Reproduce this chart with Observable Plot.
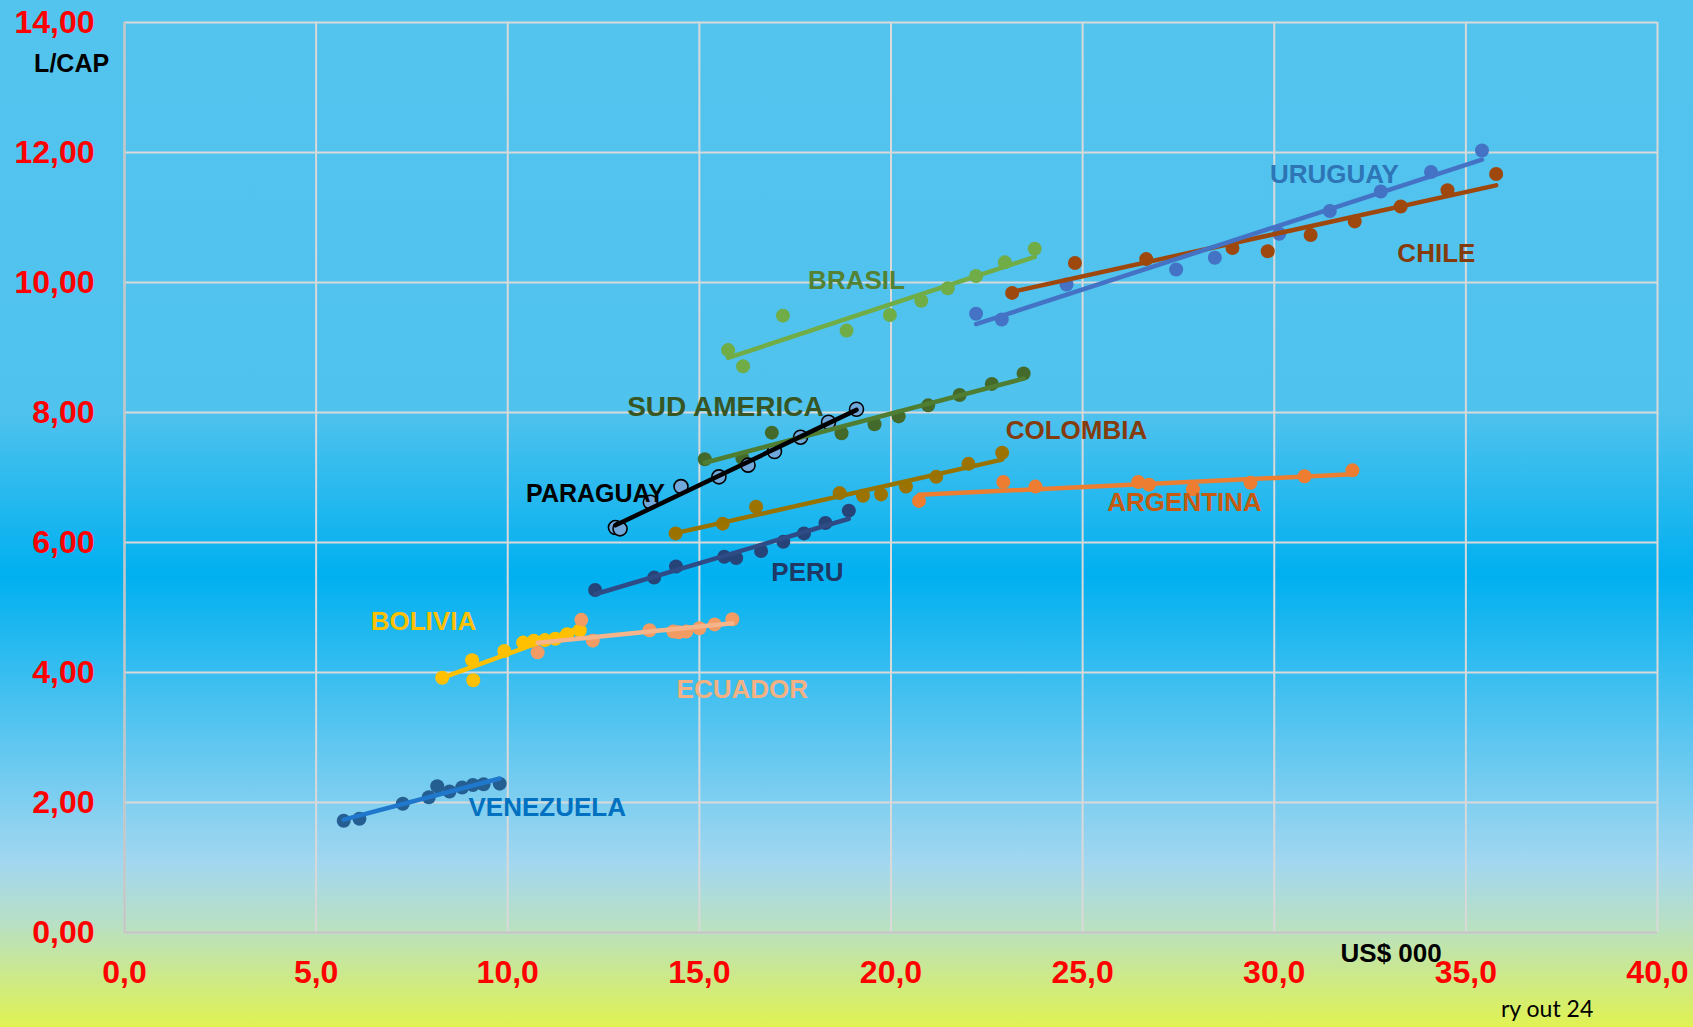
<!DOCTYPE html>
<html>
<head>
<meta charset="utf-8">
<script src="https://cdn.jsdelivr.net/npm/d3@7"></script>
<script src="https://cdn.jsdelivr.net/npm/@observablehq/plot@0.6"></script>
<style>
html, body { margin: 0; padding: 0; }
body {
  width: 1693px; height: 1027px; overflow: hidden; position: relative;
  background: linear-gradient(to bottom, #52c4ee 0%, #50c2ee 40%, #00b0f0 56%, #a2d7f0 84%, #b8e0c4 90%, #e0f252 100%);
  font-family: "Liberation Sans", Arial, sans-serif;
}
#chart { position: absolute; left: 0; top: 0; }
#note { position: absolute; left: 1501px; top: 994px; font-family: Lato, "Open Sans", sans-serif; font-size: 23px; color: #000; white-space: nowrap; }
</style>
</head>
<body>
<div id="chart"></div>
<div id="note">ry out 24</div>
<script>
// ---- data (x = US$ 000, y = L/CAP) ----
const venezuela = [[5.72,1.72],[6.13,1.75],[7.26,1.98],[7.94,2.08],[8.16,2.25],[8.48,2.17],[8.81,2.23],[9.09,2.27],[9.37,2.28],[9.79,2.29]];
const bolivia = [[8.29,3.92],[9.07,4.19],[9.10,3.88],[9.91,4.33],[10.40,4.46],[10.68,4.49],[10.97,4.50],[11.24,4.52],[11.55,4.59],[11.88,4.65]];
const ecuador = [[10.78,4.31],[11.92,4.81],[12.22,4.49],[13.70,4.65],[14.32,4.63],[14.46,4.62],[14.66,4.63],[15.00,4.68],[15.40,4.74],[15.86,4.82]];
const peru = [[12.28,5.27],[13.82,5.46],[14.39,5.63],[15.65,5.78],[15.96,5.76],[16.61,5.87],[17.19,6.01],[17.73,6.14],[18.29,6.30],[18.90,6.49]];
const paraguay = [[12.81,6.23],[12.93,6.21],[13.72,6.62],[14.52,6.86],[15.51,7.01],[16.27,7.19],[16.96,7.40],[17.64,7.62],[18.37,7.85],[19.10,8.05]];
const colombia = [[14.38,6.14],[15.61,6.29],[16.48,6.55],[18.66,6.76],[19.27,6.72],[19.74,6.74],[20.39,6.86],[21.18,7.01],[22.02,7.21],[22.90,7.38]];
const sudAmerica = [[15.14,7.28],[16.12,7.30],[16.89,7.69],[18.71,7.68],[19.57,7.82],[20.20,7.94],[20.97,8.11],[21.79,8.27],[22.63,8.44],[23.46,8.60]];
const argentina = [[20.73,6.64],[22.93,6.93],[23.77,6.86],[26.45,6.93],[26.73,6.89],[27.88,6.82],[29.38,6.92],[30.79,7.02],[32.04,7.11]];
const brasil = [[15.75,8.96],[16.14,8.71],[17.18,9.49],[18.84,9.26],[19.97,9.50],[20.79,9.72],[21.48,9.91],[22.22,10.10],[22.97,10.31],[23.75,10.52]];
const uruguay = [[22.22,9.52],[22.89,9.43],[24.58,9.97],[27.44,10.20],[28.45,10.38],[30.13,10.75],[31.45,11.10],[32.78,11.40],[34.09,11.70],[35.42,12.03]];
const chile = [[23.16,9.84],[24.80,10.30],[26.66,10.36],[28.91,10.53],[29.83,10.48],[30.95,10.73],[32.10,10.94],[33.30,11.17],[34.52,11.42],[35.79,11.67]];

const xTicks = [0, 5, 10, 15, 20, 25, 30, 35, 40];
const yTicks = [0, 2, 4, 6, 8, 10, 12, 14];

const labelNames = ["URUGUAY","CHILE","BRASIL","SUD AMERICA","COLOMBIA","PARAGUAY","ARGENTINA","PERU","BOLIVIA","ECUADOR","VENEZUELA"];
const labelX = [31.57, 34.23, 19.10, 15.68, 24.84, 12.29, 27.66, 17.82, 7.80, 16.12, 11.03];
const labelY = [11.66, 10.44, 10.03, 8.09, 7.72, 6.75, 6.62, 5.53, 4.78, 3.73, 1.92];

// ---- styles ----
const series = [
  {data: venezuela, dot: "#255e91", line: "#1f78cc"},
  {data: bolivia, dot: "#ffc000", line: "#ffc000"},
  {data: peru, dot: "#264478", line: "#2f4b85"},
  {data: colombia, dot: "#9c7300", line: "#997300"},
  {data: sudAmerica, dot: "#436a2a", line: "#4f7d32"},
  {data: argentina, dot: "#ed7d31", line: "#ed7d31"},
  {data: brasil, dot: "#70ad47", line: "#70ad47"},
  {data: chile, dot: "#9e480e", line: "#9e480e"},
  {data: uruguay, dot: "#4472c4", line: "#4472c4"},
  {data: ecuador, dot: "#f29c64", line: "#f6b48a"},
  {data: paraguay, dot: "#70a8dc", line: "#000000", stroke: "#000000"}
];
const labelColors = ["#2e75b6","#843c0c","#548235","#375623","#843c0c","#000000","#c55a11","#1f3864","#ffc000","#f4b183","#0070c0"];
const labelSizes = [26,26,26,28,26,25,26,26,26,26,26];

const labels = labelNames.map((name, i) => ({name, x: labelX[i], y: labelY[i], color: labelColors[i], size: labelSizes[i]}));

const fx = d => d[0], fy = d => d[1];
const comma = (v, n) => v.toFixed(n).replace(".", ",");

const marks = [
  Plot.gridY({ticks: yTicks, stroke: "#d9d9d9", strokeOpacity: 1, strokeWidth: 2}),
  Plot.gridX({ticks: xTicks, stroke: "#d9d9d9", strokeOpacity: 1, strokeWidth: 2}),
  Plot.ruleY([0], {stroke: "#c4c4c4", strokeWidth: 2}),
  Plot.ruleX([0], {stroke: "#c4c4c4", strokeWidth: 2}),
  ...series.map(s => Plot.dot(s.data, {x: fx, y: fy, r: 7, fill: s.dot, stroke: s.stroke ?? "none", strokeWidth: 1.6})),
  ...series.map(s => Plot.linearRegressionY(s.data, {x: fx, y: fy, stroke: s.line, strokeWidth: 4.5, ci: 0})),
  ...labels.map(l => Plot.text([l], {x: "x", y: "y", text: "name", fill: l.color, fontSize: l.size, fontWeight: "bold"})),
  Plot.text(["L/CAP"], {x: -1.38, y: 13.36, text: d => d, fontSize: 25, fontWeight: "bold", fill: "black"}),
  Plot.text(["US$ 000"], {x: 33.05, y: -0.33, text: d => d, fontSize: 26, fontWeight: "bold", fill: "black"}),
  Plot.axisX({ticks: xTicks, tickFormat: d => comma(d, 1), tickSize: 0, tickPadding: 28, fontSize: 32, fontWeight: "bold", color: "red", fill: "red", label: null}),
  Plot.axisY({ticks: yTicks, tickFormat: d => comma(d, 2), tickSize: 0, tickPadding: 30, fontSize: 32, fontWeight: "bold", color: "red", fill: "red", label: null})
];

const chart = Plot.plot({
  width: 1693,
  height: 1027,
  marginLeft: 124,
  marginRight: 36,
  marginTop: 22,
  marginBottom: 95,
  x: {domain: [0, 40], label: null},
  y: {domain: [0, 14], label: null},
  style: {background: "transparent", fontFamily: "'Liberation Sans', Arial, sans-serif", overflow: "visible"},
  marks
});
document.getElementById("chart").appendChild(chart);
</script>
</body>
</html>
